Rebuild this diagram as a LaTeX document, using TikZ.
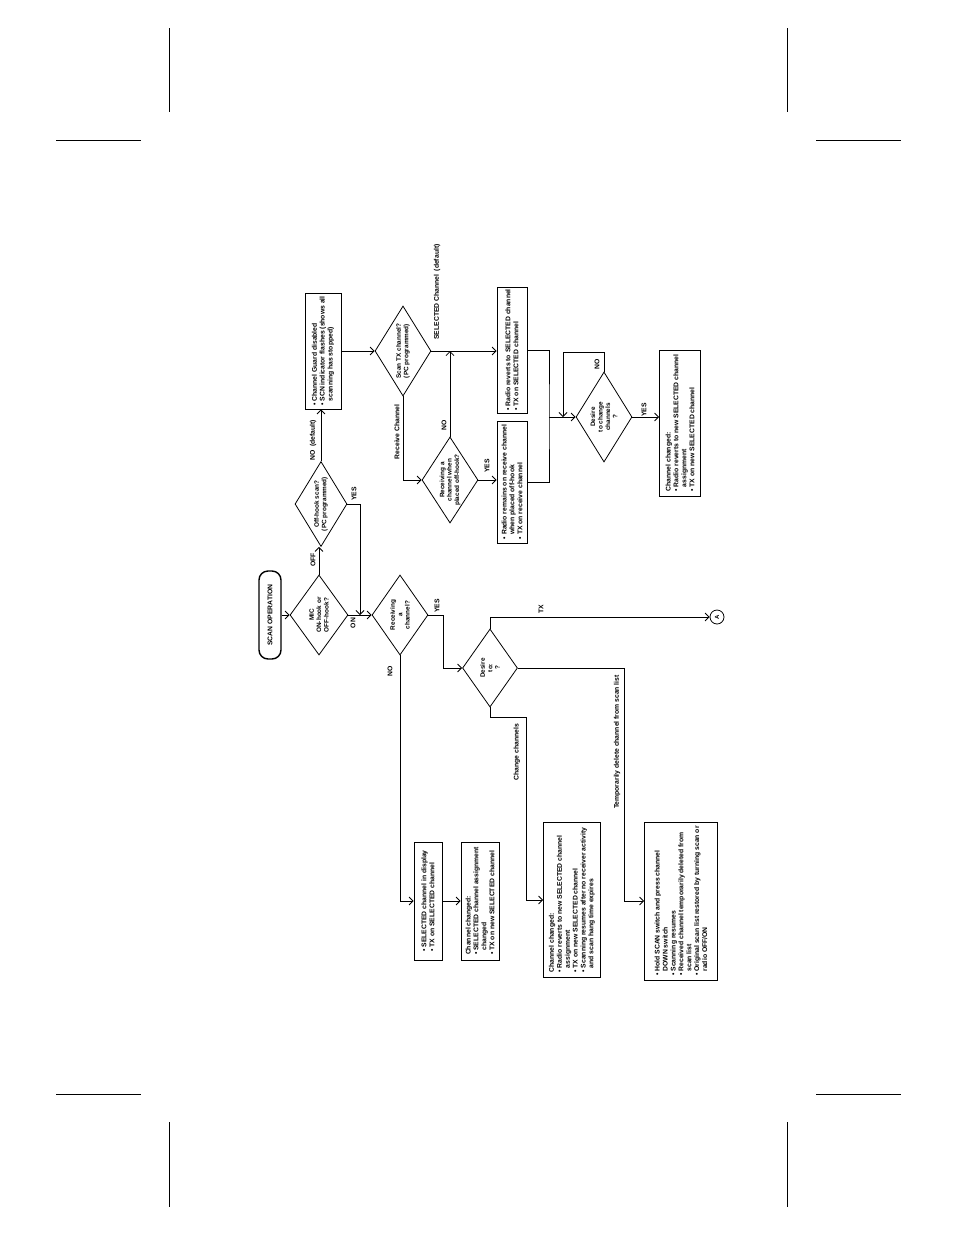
\documentclass[tikz,border=0pt]{standalone}
\usepackage{fontspec}
\setmainfont{Liberation Sans}
\usetikzlibrary{shapes,arrows.meta,positioning,calc}
\tikzstyle{startstop} = [rectangle, draw, line width=1.4pt, rounded corners=9pt, rotate=90, minimum width=88pt, minimum height=22pt]
\tikzstyle{decision} = [diamond, draw, rotate=90, align=center, inner sep=-1pt, shape aspect=1.45, font=\fontsize{6.4}{7.4}\selectfont\bfseries]
\tikzstyle{box} = [rectangle, draw, rotate=90, align=left, inner sep=1.5pt]
\tikzstyle{connector} = [circle, draw, rotate=90, minimum size=14pt, inner sep=0pt, font=\fontsize{6}{7}\selectfont\bfseries]
\tikzstyle{lbl} = [rotate=90, inner sep=1pt]
\tikzstyle{arrow} = [->, >={Straight Barb[length=4pt,width=8pt]}]
\newcommand{\bul}{\textbullet\ }
\newcommand{\ind}{\hphantom{\textbullet\ }}

\begin{document}
\begin{tikzpicture}[x=1pt, y=-1pt, line width=0.8pt, font=\fontsize{6.8}{7.9}\selectfont\bfseries]
    \useasboundingbox (0,0) rectangle (954,1235);
    % crop marks
    \draw[line width=1pt] (169,28) -- (169,112) (787,28) -- (787,112);
    \draw[line width=1pt] (56,140) -- (141,140) (816,140) -- (901,140);
    \draw[line width=1pt] (56,1094) -- (141,1094) (816,1094) -- (901,1094);
    \draw[line width=1pt] (169,1122) -- (169,1207) (787,1122) -- (787,1207);

    % Start
    \node [startstop] (start) at (270,615) {SCAN OPERATION};
    \node [decision, minimum width=80pt, minimum height=58pt] (mic) at (319,615) {MIC\\ON-hook or\\OFF-hook?};

    % Off-hook branch
    \node [decision, minimum width=85pt, minimum height=52pt] (offhook) at (321,504) {Off-hook scan?\\(PC programmed)};
    \node [box, minimum width=116pt, minimum height=36pt] (guard) at (323,351) {\bul Channel Guard disabled\\\bul SCN indicator flashes (shows all\\\ind scanning has stopped)};
    \node [decision, minimum width=90pt, minimum height=56pt] (scantx) at (403,351) {Scan TX channel?\\(PC programmed)};
    \node [decision, minimum width=86pt, minimum height=56pt] (rxwhen) at (450,480) {Receiving a\\channel when\\placed off-hook?};
    \node [box, minimum width=126pt, minimum height=30pt] (revert) at (512,350) {\bul Radio reverts to SELECTED channel\\\bul TX on SELECTED channel};
    \node [box, minimum width=122pt, minimum height=30pt] (remain) at (512,482) {\bul Radio remains on receive channel\\\ind when placed off-hook\\\bul TX on receive channel};
    \node [decision, minimum width=90pt, minimum height=56pt] (chg) at (604,417) {Desire\\to change\\channels\\?};
    \node [box, minimum width=146pt, minimum height=41pt] (newsel) at (680,423) {Channel changed:\\\bul Radio reverts to new SELECTED channel\\\ind assignment\\\bul TX on new SELECTED channel};

    % On-hook branch
    \node [decision, minimum width=80pt, minimum height=56pt] (rxch) at (400,615) {Receiving\\a\\channel?};
    \node [decision, minimum width=78pt, minimum height=55pt] (desire) at (490,668) {Desire\\to:\\?};
    \node [connector] (conA) at (717,617) {A};
    \node [box, minimum width=118pt, minimum height=28pt] (selbox) at (428,901) {\bul SELECTED channel in display\\\bul TX on SELECTED channel};
    \node [box, minimum width=118pt, minimum height=38pt] (chbox) at (480,901) {Channel changed:\\\bul SELECTED channel assignment\\\ind changed\\\bul TX on new SELECTED channel};
    \node [box, minimum width=155pt, minimum height=57pt] (resume) at (572,900) {Channel changed:\\\bul Radio reverts to new SELECTED channel\\\ind assignment\\\bul TX on new SELECTED channel\\\bul Scanning resumes after no receiver activity\\\ind and scan hang time expires};
    \node [box, minimum width=158pt, minimum height=73pt] (hold) at (681,901) {\bul Hold SCAN switch and press channel\\\ind DOWN switch\\\bul Scanning resumes\\\bul Received channel temporarily deleted from\\\ind scan list\\\bul Original scan list restored by turning scan or\\\ind radio OFF/ON};

    % Helper points
    \coordinate (join) at ($(mic.south)!0.5!(rxch.north)$);
    \coordinate (merge) at (549,417);
    \coordinate (loop) at (563,417);

    % Connections
    \draw [arrow] (start.south) -- (mic.north);
    \draw [arrow] (mic.south) -- (rxch.north);
    \draw [arrow] (mic.east) -- (mic.east |- offhook.west);
    \draw [arrow] (offhook.east) -- (offhook.east |- guard.west);
    \draw [arrow] (offhook.south) -| (join);
    \draw [arrow] (guard.south) -- (scantx.north);
    \draw [arrow] (scantx.south) -- (scantx.south -| revert.north);
    \draw [arrow] (scantx.west) |- (rxwhen.north);
    \draw [arrow] (rxwhen.east) -- (rxwhen.east |- scantx.south);
    \draw [arrow] (rxwhen.south) -- (rxwhen.south -| remain.north);
    \draw (revert.south) -| (merge) |- (remain.south);
    \draw [arrow] (merge) -- (chg.north);
    \draw [arrow] (chg.east) -- ++(0,-19) -| (loop);
    \draw [arrow] (chg.south) -- (chg.south -| newsel.north);
    \draw [arrow] (rxch.south) -- ++(15,0) |- (desire.north);
    \draw [arrow] (rxch.west) |- (selbox.north);
    \draw [arrow] (selbox.south) -- (chbox.north);
    \draw [arrow] (desire.east) |- (conA.north);
    \draw [arrow] (desire.south) -- ++(106,0) |- (hold.north);
    \draw [arrow] (desire.west) -- ++(0,10) -- ++(36,0) |- (resume.north);

    % Labels
    \node [lbl] at (313,560) {OFF};
    \node [lbl] at (313,440) {NO\enspace(default)};
    \node [lbl] at (354,494) {YES};
    \node [lbl] at (353,623) {ON};
    \node [lbl] at (437,292) {SELECTED Channel\enspace(default)};
    \node [lbl] at (397,432) {Receive Channel};
    \node [lbl] at (444,425) {NO};
    \node [lbl] at (487,466) {YES};
    \node [lbl] at (597,364) {NO};
    \node [lbl] at (644,410) {YES};
    \node [lbl] at (437,606) {YES};
    \node [lbl] at (390,671) {NO};
    \node [lbl] at (541,609) {TX};
    \node [lbl] at (517,752) {Change channels};
    \node [lbl] at (617,742) {Temporarily delete channel from scan list};
\end{tikzpicture}
\end{document}
